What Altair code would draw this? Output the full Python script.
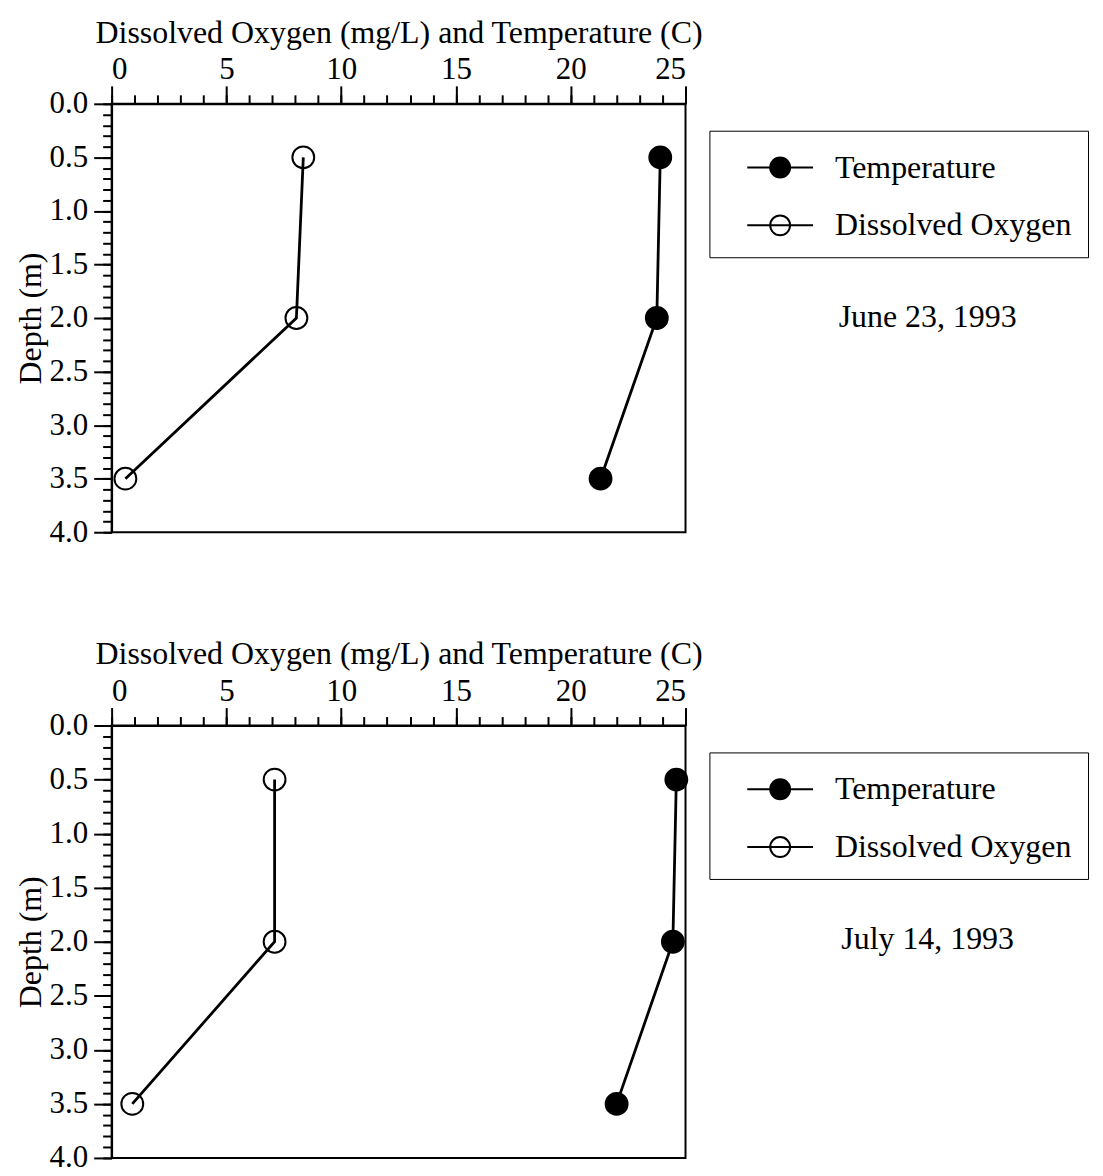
import altair as alt
import pandas as pd

# ---- data ----
depths = [0.5, 2.0, 3.5]
june_temp = [23.9, 23.75, 21.3]
june_do = [8.35, 8.05, 0.6]
july_temp = [24.6, 24.45, 22.0]
july_do = [7.1, 7.1, 0.9]
series_names = ["Temperature", "Dissolved Oxygen"]
dates = ["June 23, 1993", "July 14, 1993"]

x_major_ticks = [0, 5, 10, 15, 20, 25]
x_minor_ticks = list(range(0, 26))
y_major_ticks = [0.0, 0.5, 1.0, 1.5, 2.0, 2.5, 3.0, 3.5, 4.0]
y_minor_ticks = [round(i * 0.1, 1) for i in range(0, 41)]

FONT = "Liberation Serif"
X_TITLE = "Dissolved Oxygen (mg/L) and Temperature (C)"
LEGEND_PATH = ("M-1.65,0H1.65"
               "M-0.5,0A0.5,0.5,0,1,0,0.5,0A0.5,0.5,0,1,0,-0.5,0Z")


def panel(temp, do, date_label, h):
    df = pd.DataFrame({
        "depth": depths + depths,
        "value": temp + do,
        "series": [series_names[0]] * len(temp) + [series_names[1]] * len(do),
    })
    xs = alt.Scale(domain=[0, 25], nice=False, zero=False)
    ys = alt.Scale(domain=[0, 4], nice=False, zero=False, reverse=True)
    base = alt.Chart(df)

    minor = base.mark_line(strokeOpacity=0).encode(
        x=alt.X("value:Q", scale=xs, axis=alt.Axis(
            orient="top", values=x_minor_ticks, labels=False, domain=False,
            title=None, tickSize=9, grid=False)),
        y=alt.Y("depth:Q", scale=ys, axis=alt.Axis(
            orient="left", values=y_minor_ticks, labels=False, domain=False,
            title=None, tickSize=9, grid=False)),
        detail="series:N",
    )

    lines = base.mark_line(color="black", strokeWidth=2.8).encode(
        x=alt.X("value:Q", scale=xs, axis=alt.Axis(
            orient="top", values=x_major_ticks, title=X_TITLE, tickSize=18,
            labelPadding=0, titlePadding=5, grid=False, format="d")),
        y=alt.Y("depth:Q", scale=ys, axis=alt.Axis(
            orient="left", values=y_major_ticks, title="Depth (m)", tickSize=18,
            labelPadding=6, titlePadding=2, grid=False, format=".1f")),
        detail="series:N",
        order="depth:Q",
    )

    points = base.mark_point(filled=True, size=480, stroke="black",
                             strokeWidth=2, opacity=1).encode(
        x=alt.X("value:Q", scale=xs, axis=None),
        y=alt.Y("depth:Q", scale=ys, axis=None),
        fill=alt.Fill("series:N",
                      scale=alt.Scale(domain=series_names,
                                      range=["black", "transparent"]),
                      legend=alt.Legend(
                          title=None, orient="none", legendX=600, legendY=27,
                          symbolType=LEGEND_PATH, symbolSize=1600,
                          symbolStrokeColor="black", symbolStrokeWidth=2,
                          symbolOffset=34, labelOffset=34, rowPadding=21,
                          padding=16, strokeColor="black", fillColor="white",
                          labelFont=FONT, labelFontSize=32, labelColor="black",
                          labelLimit=400)),
    )

    text = alt.Chart(pd.DataFrame({"label": [date_label]})).mark_text(
        font=FONT, fontSize=32, color="black", align="center", baseline="middle"
    ).encode(text="label:N", x=alt.value(819), y=alt.value(214))

    return alt.layer(minor, lines, points, text).resolve_scale(
        x="independent", y="independent", fill="independent"
    ).properties(width=576, height=h)


top = panel(june_temp, june_do, dates[0], 430)
bottom = panel(july_temp, july_do, dates[1], 434)

chart = alt.vconcat(top, bottom, spacing=89).configure(
    background="white"
).configure_view(
    stroke="black", strokeWidth=2
).configure_axis(
    domainColor="black", domainWidth=2, tickColor="black", tickWidth=2,
    labelFont=FONT, labelFontSize=31, labelColor="black",
    titleFont=FONT, titleFontSize=32, titleFontWeight="normal", titleColor="black",
)

chart.save("out.html", embed_options={"renderer": "svg", "actions": False})
